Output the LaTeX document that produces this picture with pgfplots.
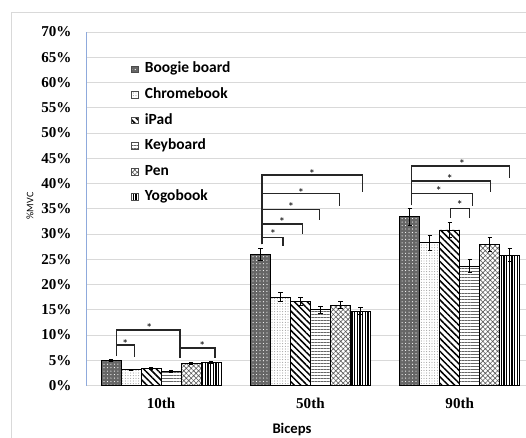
\documentclass[border=0pt]{standalone}
\usepackage{fontspec}
\setmainfont{Liberation Serif}
\newfontfamily\carlito{Carlito}
\usepackage{pgfplots}
\pgfplotsset{compat=1.18}
\usetikzlibrary{patterns.meta}
\definecolor{gridgray}{HTML}{D9D9D9}
\definecolor{axisblue}{HTML}{8FAADC}

\pgfplotsset{
  barbase/.style={ybar, bar width=0.134, bar shift=0, draw=black, line width=0.6pt,
    error bars/y dir=both, error bars/y explicit,
    error bars/error bar style={line width=0.7pt, black},
    error bars/error mark options={rotate=90, mark size=1.6pt, line width=0.7pt, black}},
  brk/.style={black!85, line width=1.0pt, sharp plot, no marks, forget plot},
}
\tikzset{sigstar/.style={font=\carlito\fontsize{9.5pt}{10pt}\selectfont, inner sep=0pt, anchor=center, yshift=-2pt}}

\begin{document}
\begin{tikzpicture}
\useasboundingbox (-64.875pt,-38.625pt) rectangle (329.625pt,289.125pt);
\draw[gridgray, line width=0.7pt] (-56.6pt,-40pt) -- (-56.6pt,279.6pt) -- (331pt,279.6pt);
\begin{axis}[
  scale only axis, width=329.625pt, height=265.125pt,
  xmin=-0.5, xmax=2.444, ymin=0, ymax=70,
  xtick={0,1,2}, xticklabels={10th,50th,90th},
  ytick={0,5,...,70},
  /pgf/number format/assume math mode=true,
  yticklabel={\pgfmathprintnumber{\tick}\%},
  yticklabel style={font=\bfseries\fontsize{11.3pt}{13pt}\selectfont, anchor=east, inner sep=0pt, xshift=-11.1pt},
  xticklabel style={font=\bfseries\fontsize{11.3pt}{13pt}\selectfont, anchor=north, inner sep=0pt, yshift=-9.4pt},
  major tick length=0pt, tick style={draw=none},
  ymajorgrids, grid style={gridgray, line width=0.6pt},
  axis y line*=left, axis x line*=bottom,
  y axis line style={axisblue, line width=0.8pt},
  x axis line style={gridgray, line width=0.6pt},
  xlabel={Biceps},
  xlabel style={font=\carlito\bfseries\fontsize{11pt}{13pt}\selectfont, at={(axis description cs:0.4676,0)}, anchor=center, inner sep=0pt, yshift=-33.2pt},
  ylabel={\%MVC},
  ylabel style={font=\carlito\fontsize{7.5pt}{8pt}\selectfont, at={(axis description cs:-0.1286,0.508)}, anchor=center, inner sep=0pt},
  legend style={draw=none, fill=none, at={(0.1013,0.9124)}, anchor=north west, inner sep=0pt, outer sep=0pt,
    font=\carlito\bfseries\fontsize{11.6pt}{13pt}\selectfont, row sep=9.66pt, column sep=5pt,
    nodes={inner sep=0pt, text height=7.5pt, text depth=2pt}},
  legend cell align=left,
  legend image code/.code={\draw[#1, draw=black!70, line width=0.4pt] (0pt,-2.5pt) rectangle (5pt,2.5pt);},
  clip=false,
]
% Boogie board
\addplot[barbase, fill=black!60,
  postaction={pattern color=white, pattern={Dots[distance=2.6pt, radius=0.45pt]}}]
  table[x=x, y=y, y error=e] {
x y e
-0.335 5.0 0.2
0.665 25.9 1.2
1.665 33.4 1.65
};
\addlegendentry{Boogie board}
% Chromebook
\addplot[barbase, fill=white,
  postaction={pattern color=black!55, pattern={Dots[distance=2pt, radius=0.32pt]}}]
  table[x=x, y=y, y error=e] {
x y e
-0.201 3.1 0.15
0.799 17.5 0.9
1.799 28.3 1.5
};
\addlegendentry{Chromebook}
% iPad
\addplot[barbase, fill=white,
  postaction={pattern color=black, pattern={Lines[angle=-45, distance=3.4pt, line width=1.1pt]}}]
  table[x=x, y=y, y error=e] {
x y e
-0.067 3.4 0.15
0.933 16.7 0.8
1.933 30.8 1.55
};
\addlegendentry{iPad}
% Keyboard
\addplot[barbase, fill=white,
  postaction={pattern color=black!60, pattern={Lines[angle=0, distance=2.3pt, line width=0.55pt]}}]
  table[x=x, y=y, y error=e] {
x y e
0.067 2.8 0.15
1.067 15.0 0.7
2.067 23.6 1.3
};
\addlegendentry{Keyboard}
% Pen
\addplot[barbase, fill=white,
  postaction={pattern color=black!65, pattern={Hatch[angle=45, distance=2.6pt, line width=0.45pt]}}]
  table[x=x, y=y, y error=e] {
x y e
0.201 4.4 0.2
1.201 15.9 0.7
2.201 27.9 1.4
};
\addlegendentry{Pen}
% Yogobook
\addplot[barbase, fill=white,
  postaction={pattern color=black, pattern={Lines[angle=90, distance=2pt, line width=0.8pt]}}]
  table[x=x, y=y, y error=e] {
x y e
0.335 4.6 0.2
1.335 14.7 0.7
2.335 25.8 1.3
};
\addlegendentry{Yogobook}

% brackets 10th
\addplot[brk] coordinates {(-0.30,5.8) (-0.30,8.0) (-0.177,8.0) (-0.177,5.7)};
\addplot[brk] coordinates {(-0.30,8.0) (-0.30,11.0) (0.126,11.0) (0.126,7.4)};
\addplot[brk] coordinates {(0.126,5.4) (0.126,7.4) (0.36,7.4) (0.36,5.4)};
\node[sigstar] at (axis cs:-0.24,8.8) {*};
\node[sigstar] at (axis cs:-0.08,12.0) {*};
\node[sigstar] at (axis cs:0.276,8.3) {*};
% brackets 50th
\addplot[brk] coordinates {(0.675,28.0) (0.675,29.3) (0.816,29.3) (0.816,27.7)};
\addplot[brk] coordinates {(0.675,28.0) (0.675,32.0) (0.948,32.0) (0.948,30.0)};
\addplot[brk] coordinates {(0.675,28.0) (0.675,34.9) (1.06,34.9) (1.06,32.7)};
\addplot[brk] coordinates {(0.675,28.0) (0.675,38.0) (1.195,38.0) (1.195,35.5)};
\addplot[brk] coordinates {(0.675,28.0) (0.675,41.7) (1.35,41.7) (1.35,38.3)};
\node[sigstar] at (axis cs:0.75,30.5) {*};
\node[sigstar] at (axis cs:0.81,32.9) {*};
\node[sigstar] at (axis cs:0.87,35.8) {*};
\node[sigstar] at (axis cs:0.937,38.7) {*};
\node[sigstar] at (axis cs:1.01,42.5) {*};
% brackets 90th
\addplot[brk] coordinates {(1.675,35.7) (1.675,38.0) (2.087,38.0) (2.087,35.6)};
\addplot[brk] coordinates {(1.94,33.2) (1.94,35.05) (2.065,35.05) (2.065,33.2)};
\addplot[brk] coordinates {(1.675,35.7) (1.675,40.5) (2.205,40.5) (2.205,38.3)};
\addplot[brk] coordinates {(1.675,35.7) (1.675,43.5) (2.335,43.5) (2.335,41.0)};
\node[sigstar] at (axis cs:1.86,39.0) {*};
\node[sigstar] at (axis cs:2.0,36.2) {*};
\node[sigstar] at (axis cs:1.933,41.5) {*};
\node[sigstar] at (axis cs:2.015,44.3) {*};
\end{axis}
\end{tikzpicture}
\end{document}
